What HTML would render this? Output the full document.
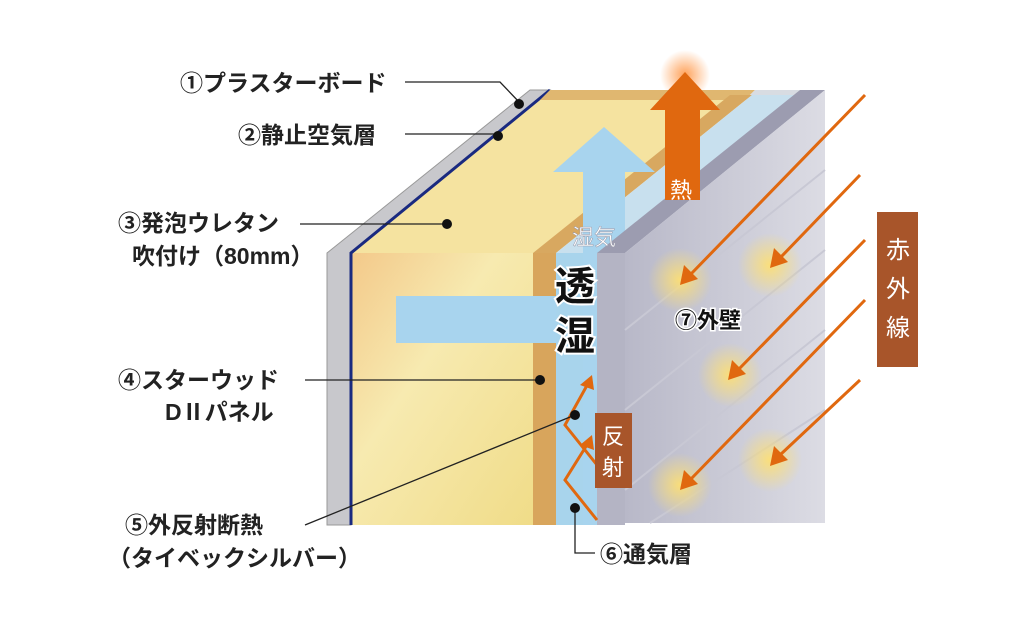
<!DOCTYPE html>
<html><head><meta charset="utf-8"><style>
html,body{margin:0;padding:0;background:#fff;}
svg text{font-family:"Liberation Sans","Noto Sans CJK JP",sans-serif;}
</style></head><body>
<svg width="1024" height="626" viewBox="0 0 1024 626" xmlns="http://www.w3.org/2000/svg">
<defs>
<linearGradient id="ins" x1="0" y1="0" x2="1" y2="1">
<stop offset="0" stop-color="#f3c98a"/><stop offset="0.4" stop-color="#f7eab0"/><stop offset="1" stop-color="#f0dc88"/></linearGradient>
<linearGradient id="wall" x1="0" y1="0" x2="1" y2="0">
<stop offset="0" stop-color="#b8b8c8"/><stop offset="1" stop-color="#dcdce4"/></linearGradient>
<radialGradient id="glow"><stop offset="0" stop-color="#ffe070" stop-opacity="0.9"/><stop offset="1" stop-color="#ffe070" stop-opacity="0"/></radialGradient>
<radialGradient id="hglow"><stop offset="0" stop-color="#ff8a30" stop-opacity="0.8"/><stop offset="1" stop-color="#ff8a30" stop-opacity="0"/></radialGradient>
</defs>
<polygon points="327,253 530,90 550,90 351,253 351,525 327,525" fill="#c8c8cc" stroke="#999" stroke-width="1"/>
<polygon points="351,253 550,90 750,90 556,253" fill="#f5e3a0"/>
<rect x="351" y="253" width="182" height="272" fill="url(#ins)"/>
<polyline points="351,525 351,253 550,90" fill="none" stroke="#1a2a80" stroke-width="3"/>
<polygon points="540,100 550,90 755,90 745,100" fill="#e0b770"/>
<polygon points="755,90 800,90 790,100 745,100" fill="#d8dce2"/>
<polygon points="533,253 556,253 556,525 533,525" fill="#d8a55c"/>
<polygon points="533,253 730,95 752,95 556,253" fill="#d8a860"/>
<rect x="556" y="253" width="41" height="272" fill="#a8d4ec"/>
<polygon points="556,253 752,95 800,95 597,253" fill="#c8e0ee"/>
<!-- moisture arrow (behind wall) -->
<polygon points="583,260 625,260 625,172 655,172 604,127 553,172 583,172" fill="#a8d4ee"/>
<rect x="583" y="253" width="14" height="272" fill="#a8d4ee"/>
<!-- outer wall -->
<polygon points="597,253 800,90 825,90 625,253" fill="#9c9cb0"/>
<rect x="597" y="253" width="28" height="272" fill="#b4b4c4"/>
<polygon points="625,253 825,90 825,523 625,523" fill="url(#wall)"/>
<g stroke="#c8c8d4" stroke-width="2">
<line x1="625" y1="330" x2="825" y2="170"/><line x1="625" y1="410" x2="825" y2="250"/>
<line x1="625" y1="490" x2="825" y2="330"/><line x1="650" y1="523" x2="825" y2="410"/></g>
<circle cx="680" cy="280" r="32" fill="url(#glow)"/><circle cx="770" cy="265" r="32" fill="url(#glow)"/>
<circle cx="730" cy="375" r="32" fill="url(#glow)"/><circle cx="680" cy="485" r="32" fill="url(#glow)"/>
<circle cx="770" cy="460" r="32" fill="url(#glow)"/>
<circle cx="685" cy="75" r="25" fill="url(#hglow)"/>
<polygon points="665,200 700,200 700,110 720,110 685,72 650,110 665,110" fill="#e0680f"/>
<text x="670" y="198" font-size="22" fill="#fff">熱</text>
<rect x="396" y="296" width="160" height="47" fill="#a8d4ee"/>
<text x="572" y="245" font-size="22" fill="#fff" stroke="#99a" stroke-width="0.5">湿気</text>
<text x="555" y="300" font-size="40" font-weight="bold" fill="#111" stroke="#fff" stroke-width="4" paint-order="stroke">透</text>
<text x="555" y="350" font-size="40" font-weight="bold" fill="#111" stroke="#fff" stroke-width="4" paint-order="stroke">湿</text>
<g stroke="#e0680f" stroke-width="3" fill="none"><polyline points="597,465 565,425 590,380"/><polyline points="597,520 565,480 590,440"/></g>
<polygon points="592,375 580,385 594,390" fill="#e0680f"/><polygon points="592,435 580,445 594,450" fill="#e0680f"/>
<rect x="595" y="413" width="37" height="75" fill="#a8552a"/>
<text x="602" y="444" font-size="22" fill="#fff">反</text><text x="602" y="475" font-size="22" fill="#fff">射</text>
<g stroke="#e0680f" stroke-width="3">
<line x1="865" y1="95" x2="690" y2="275"/><line x1="860" y1="175" x2="780" y2="258"/>
<line x1="865" y1="240" x2="738" y2="370"/><line x1="865" y1="300" x2="690" y2="480"/>
<line x1="860" y1="380" x2="780" y2="455"/></g>
<g fill="#e0680f">
<polygon points="680,285 684,265 698,279"/><polygon points="770,268 774,248 788,262"/>
<polygon points="728,380 732,360 746,374"/><polygon points="680,490 684,470 698,484"/>
<polygon points="770,466 774,446 788,460"/></g>
<rect x="877" y="212" width="41" height="155" fill="#a8552a"/>
<text x="886" y="258" font-size="24" fill="#fff">赤</text><text x="886" y="297" font-size="24" fill="#fff">外</text><text x="886" y="336" font-size="24" fill="#fff">線</text>
<text x="675" y="328" font-size="22" font-weight="bold" fill="#111" stroke="#fff" stroke-width="3" paint-order="stroke">⑦外壁</text>
<g stroke="#222" stroke-width="1.3" fill="none">
<polyline points="405,82 500,82 520,103"/><polyline points="405,134 498,134"/>
<line x1="300" y1="224" x2="447" y2="224"/><line x1="305" y1="380" x2="540" y2="380"/>
<line x1="305" y1="525" x2="575" y2="415"/><polyline points="575,507 575,553 595,553"/></g>
<g fill="#111"><circle cx="519" cy="104" r="5"/><circle cx="498" cy="136" r="5"/><circle cx="447" cy="224" r="5"/>
<circle cx="540" cy="380" r="5"/><circle cx="575" cy="415" r="5"/><circle cx="575" cy="508" r="5"/></g>
<g font-size="23" font-weight="bold" fill="#222">
<text x="180" y="91">①プラスターボード</text>
<text x="238" y="143">②静止空気層</text>
<text x="118" y="231">③発泡ウレタン</text>
<text x="132" y="264">吹付け（80mm）</text>
<text x="118" y="388">④スターウッド</text>
<text x="165" y="420">DⅡパネル</text>
<text x="125" y="533">⑤外反射断熱</text>
<text x="108" y="566">（タイベックシルバー）</text>
<text x="600" y="562">⑥通気層</text>
</g>
</svg>
</body></html>
